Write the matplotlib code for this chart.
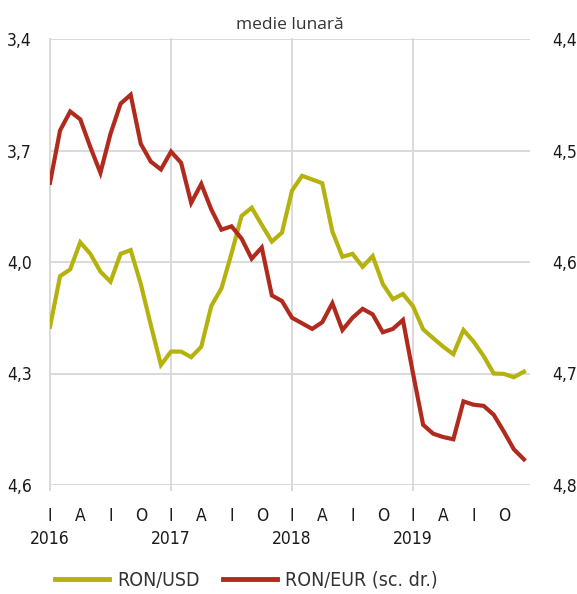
import numpy as np
import matplotlib
matplotlib.use('Agg')
import matplotlib.pyplot as plt
from matplotlib import font_manager as fm
from matplotlib.lines import Line2D
from matplotlib.transforms import blended_transform_factory

months = np.arange(48)
ron_usd = [4.174, 4.038, 4.020, 3.947, 3.978, 4.026, 4.053, 3.978, 3.968, 4.059, 4.170, 4.277,
           4.241, 4.241, 4.256, 4.228, 4.118, 4.071, 3.977, 3.876, 3.854, 3.900, 3.945, 3.921,
           3.808, 3.768, 3.778, 3.788, 3.918, 3.986, 3.978, 4.013, 3.984, 4.059, 4.100, 4.086,
           4.119, 4.181, 4.205, 4.228, 4.248, 4.183, 4.214, 4.253, 4.300, 4.301, 4.310, 4.295]
ron_eur = [4.529, 4.482, 4.465, 4.472, 4.497, 4.520, 4.485, 4.458, 4.450, 4.494, 4.510, 4.517,
           4.501, 4.511, 4.547, 4.530, 4.553, 4.571, 4.568, 4.579, 4.597, 4.587, 4.630, 4.635,
           4.650, 4.655, 4.660, 4.654, 4.637, 4.661, 4.650, 4.642, 4.647, 4.663, 4.660, 4.652,
           4.700, 4.746, 4.754, 4.757, 4.759, 4.725, 4.728, 4.729, 4.737, 4.752, 4.768, 4.777]
quarter_labels = ['I', 'A', 'I', 'O'] * 4
years = ['2016', '2017', '2018', '2019']
left_ticks = [3.4, 3.7, 4.0, 4.3, 4.6]
right_ticks = [4.4, 4.5, 4.6, 4.7, 4.8]
series_names = ['RON/USD', 'RON/EUR (sc. dr.)']
title = 'medie lunară'

GREEN = '#b5b20e'
RED = '#b02a1e'
GRID = '#d9d9d9'
TXT = '#1a1a1a'


def pick_narrow():
    try:
        p = fm.findfont(fm.FontProperties(family='Liberation Sans Narrow'), fallback_to_default=False)
        if 'Narrow' in p:
            return fm.FontProperties(family='Liberation Sans Narrow')
    except Exception:
        pass
    try:
        fp = fm.FontProperties(family='DejaVu Sans', stretch='condensed')
        p = fm.findfont(fp)
        if 'Condensed' in p:
            return fp
    except Exception:
        pass
    return fm.FontProperties(family='Liberation Sans')


NARROW = pick_narrow()


def fp(size):
    f = NARROW.copy()
    f.set_size(size)
    return f


fig = plt.figure(figsize=(5.77, 5.94), dpi=100)
ax = fig.add_axes([50/577, 1-485/594, 480/577, 446/594])
ax2 = ax.twinx()

for a in (ax, ax2):
    for s in a.spines.values():
        s.set_visible(False)

ax.set_xlim(0, 47.6)
ax.set_ylim(4.6, 3.4)
ax2.set_ylim(4.8, 4.4)

ax.set_yticks(left_ticks)
ax.set_yticklabels([f"{v:.1f}".replace('.', ',') for v in left_ticks])
ax2.set_yticks(right_ticks)
ax2.set_yticklabels([f"{v:.1f}".replace('.', ',') for v in right_ticks])
ax.tick_params(axis='y', length=0, pad=13, labelcolor=TXT)
ax2.tick_params(axis='y', length=0, pad=16, labelcolor=TXT)

qpos = months[::3]
ax.set_xticks(qpos)
ax.set_xticklabels(quarter_labels)
ax.tick_params(axis='x', length=0, pad=16, labelcolor=TXT)
ax2.tick_params(axis='x', length=0)

for lab in ax.get_xticklabels() + ax.get_yticklabels() + ax2.get_yticklabels():
    lab.set_fontproperties(fp(12.5))

ax.grid(axis='y', color=GRID, lw=1.4)
ax.set_axisbelow(True)
for m in months[::12]:
    ax.axvline(m, ymin=-0.012, ymax=1, color=GRID, lw=1.4, clip_on=False, zorder=0)

trans = blended_transform_factory(ax.transData, ax.transAxes)
for m, y in zip(months[::12], years):
    ax.text(m, -0.12, y, transform=trans, ha='center', va='center',
            color=TXT, fontproperties=fp(12.5))

ax.plot(months, ron_usd, color=GREEN, lw=3, solid_joinstyle='miter', zorder=3)
ax2.plot(months, ron_eur, color=RED, lw=3, solid_joinstyle='miter', zorder=3)

fig.text(290/577, 1-25/594, title, ha='center', va='center', fontsize=12.5,
         color='#333333', family=['Open Sans', 'DejaVu Sans'])

handles = [Line2D([], [], color=GREEN, lw=3.5), Line2D([], [], color=RED, lw=3.5)]
leg = fig.legend(handles, series_names, loc='center', bbox_to_anchor=(246/577, 1-580/594),
                 ncol=2, frameon=False, handlelength=2.8, handletextpad=0.4,
                 columnspacing=1.2, prop=fp(14))
for t in leg.get_texts():
    t.set_color('#333333')

fig.savefig('out.png', dpi=100)
